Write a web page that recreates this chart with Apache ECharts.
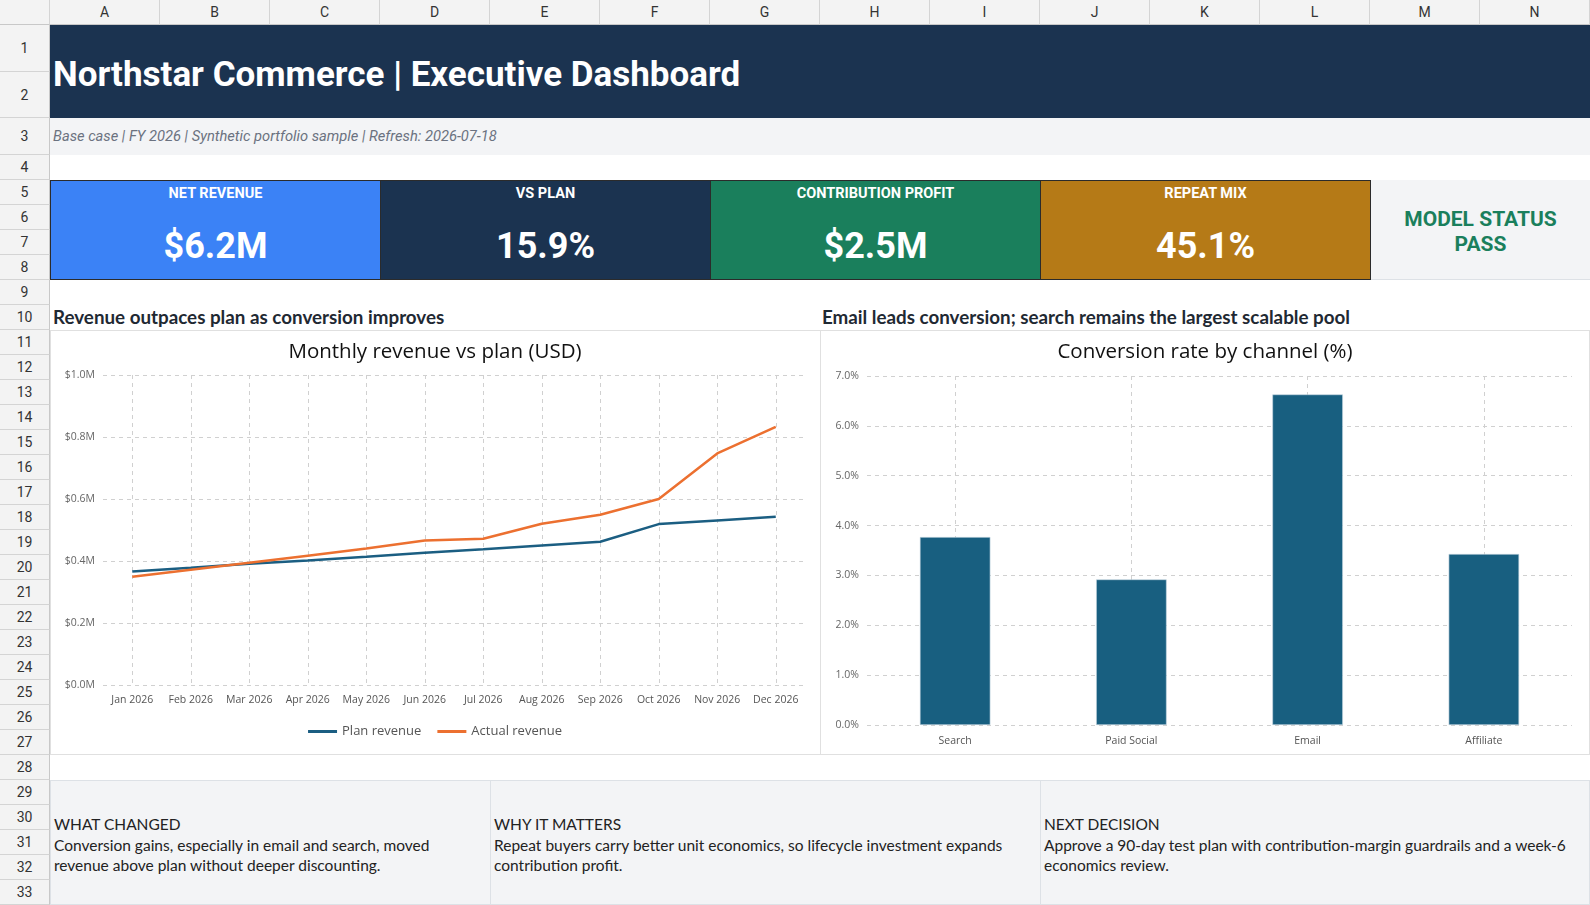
<!DOCTYPE html>
<html>
<head>
<meta charset="utf-8">
<script src="https://cdn.jsdelivr.net/npm/echarts@6/dist/echarts.min.js"></script>
<style>
  html, body { margin: 0; padding: 0; background: #fff; }
  body { width: 1590px; height: 905px; position: relative; overflow: hidden; font-family: Roboto, sans-serif; }
  .abs { position: absolute; box-sizing: border-box; }
  .colhd { background: #f3f3f3; border-right: 1px solid #d4d4d4; border-bottom: 1px solid #c8c8c8; color: #333; font-size: 14px; text-align: center; line-height: 25px; }
  .rowhd { background: #f3f3f3; border-right: 1px solid #c8c8c8; border-bottom: 1px solid #d4d4d4; color: #333; font-size: 14px; text-align: center; }
  .kpi { color: #fff; text-align: center; border: 1px solid #2b2b2b; }
  .kpi .lbl { position: absolute; left: 0; right: 0; top: 4px; font-size: 14.5px; font-weight: bold; }
  .kpi .val { position: absolute; left: 0; right: 0; top: 44px; font-size: 36px; font-weight: bold; }
  .head { font-family: Lato, sans-serif; font-weight: bold; font-size: 18.8px; color: #1f2933; white-space: nowrap; }
  .note { background: #f3f4f6; border: 1px solid #dde1e6; font-family: Lato, sans-serif; font-size: 15.5px; color: #222; line-height: 20.5px; padding: 33px 0 0 3px; white-space: nowrap; }
  .box { border: 1px solid #e0e0e0; background: #fff; }
</style>
</head>
<body>
<div id="sheet"></div>
<div class="abs" style="left:50px;top:25px;width:1540px;height:93px;background:#1b3350;"></div>
<div class="abs" style="left:53px;top:54px;color:#fff;font-size:35px;font-weight:bold;white-space:nowrap;">Northstar Commerce | Executive Dashboard</div>
<div class="abs" style="left:50px;top:118px;width:1540px;height:37px;background:#f3f4f6;"></div>
<div class="abs" style="left:53px;top:127px;color:#6b7280;font-size:14.7px;font-style:italic;white-space:nowrap;">Base case | FY 2026 | Synthetic portfolio sample | Refresh: 2026-07-18</div>

<div class="abs kpi" style="left:50px;top:180px;width:331px;height:100px;background:#3b82f6;"><div class="lbl">NET REVENUE</div><div class="val">$6.2M</div></div>
<div class="abs kpi" style="left:380px;top:180px;width:331px;height:100px;background:#1b3350;"><div class="lbl">VS PLAN</div><div class="val">15.9%</div></div>
<div class="abs kpi" style="left:710px;top:180px;width:331px;height:100px;background:#1a7f5c;"><div class="lbl">CONTRIBUTION PROFIT</div><div class="val">$2.5M</div></div>
<div class="abs kpi" style="left:1040px;top:180px;width:331px;height:100px;background:#b57a17;"><div class="lbl">REPEAT MIX</div><div class="val">45.1%</div></div>
<div class="abs" style="left:1371px;top:180px;width:219px;height:100px;background:#f3f4f6;border-bottom:1px solid #dde1e6;color:#1a7f5c;font-weight:bold;font-size:21px;text-align:center;line-height:25px;padding-top:27px;">MODEL STATUS<br>PASS</div>

<div class="abs head" style="left:53px;top:305px;">Revenue outpaces plan as conversion improves</div>
<div class="abs head" style="left:822px;top:305px;">Email leads conversion; search remains the largest scalable pool</div>

<div class="abs box" style="left:50px;top:330px;width:771px;height:425px;"></div>
<div class="abs box" style="left:820px;top:330px;width:770px;height:425px;"></div>
<div id="lineChart" class="abs" style="left:50px;top:330px;width:770px;height:425px;"></div>
<div id="barChart" class="abs" style="left:820px;top:330px;width:770px;height:425px;"></div>

<div class="abs note" style="left:50px;top:780px;width:441px;height:125px;">WHAT CHANGED<br>Conversion gains, especially in email and search, moved<br>revenue above plan without deeper discounting.</div>
<div class="abs note" style="left:490px;top:780px;width:551px;height:125px;">WHY IT MATTERS<br>Repeat buyers carry better unit economics, so lifecycle investment expands<br>contribution profit.</div>
<div class="abs note" style="left:1040px;top:780px;width:550px;height:125px;">NEXT DECISION<br>Approve a 90-day test plan with contribution-margin guardrails and a week-6<br>economics review.</div>

<script>
// sheet frame: column letters and row numbers
var colLetters = ['A', 'B', 'C', 'D', 'E', 'F', 'G', 'H', 'I', 'J', 'K', 'L', 'M', 'N'];
var rowHeights = [47, 46, 37, 25, 25, 25, 25, 25, 25, 25, 25, 25, 25, 25, 25, 25, 25, 25, 25, 25, 25, 25, 25, 25, 25, 25, 25, 25, 25, 25, 25, 25, 25];

// chart data
var months = ['Jan 2026', 'Feb 2026', 'Mar 2026', 'Apr 2026', 'May 2026', 'Jun 2026', 'Jul 2026', 'Aug 2026', 'Sep 2026', 'Oct 2026', 'Nov 2026', 'Dec 2026'];
var planRevenue = [0.366, 0.378, 0.391, 0.402, 0.414, 0.427, 0.438, 0.450, 0.462, 0.519, 0.531, 0.543];   // $M
var actualRevenue = [0.349, 0.372, 0.394, 0.417, 0.440, 0.466, 0.472, 0.520, 0.549, 0.600, 0.747, 0.833]; // $M
var channels = ['Search', 'Paid Social', 'Email', 'Affiliate'];
var conversionRate = [3.77, 2.92, 6.63, 3.43]; // %

var sheet = document.getElementById('sheet');
var html = '<div class="abs colhd" style="left:0;top:0;width:50px;height:25px;"></div>';
for (var i = 0; i < colLetters.length; i++) {
    html += '<div class="abs colhd" style="left:' + (50 + i * 110) + 'px;top:0;width:110px;height:25px;">' + colLetters[i] + '</div>';
}
var y = 25;
for (var r = 0; r < rowHeights.length; r++) {
    html += '<div class="abs rowhd" style="left:0;top:' + y + 'px;width:50px;height:' + rowHeights[r] + 'px;line-height:' + rowHeights[r] + 'px;">' + (r + 1) + '</div>';
    y += rowHeights[r];
}
sheet.innerHTML = html;

var chartFont = '"Open Sans", sans-serif';
var dashed = { show: true, lineStyle: { color: '#d0d0d0', type: [4, 4], width: 1 } };

var lineChart = echarts.init(document.getElementById('lineChart'));
lineChart.setOption({
    animation: false,
    textStyle: { fontFamily: chartFont },
    title: {
        text: 'Monthly revenue vs plan (USD)',
        left: 'center',
        top: 7,
        textStyle: { fontFamily: chartFont, fontSize: 20.5, fontWeight: 'normal', color: '#111' }
    },
    legend: {
        bottom: 12,
        left: 'center',
        icon: 'rect',
        itemWidth: 29,
        itemHeight: 3,
        itemGap: 16,
        textStyle: { fontFamily: chartFont, fontSize: 13, color: '#555' },
        data: ['Plan revenue', 'Actual revenue']
    },
    grid: { left: 53, right: 15, top: 45, bottom: 70 },
    xAxis: {
        type: 'category',
        data: months,
        boundaryGap: true,
        axisLine: { show: false },
        axisTick: { show: false },
        axisLabel: { interval: 0, fontFamily: chartFont, fontSize: 10.5, color: '#555', margin: 10 },
        splitLine: { show: true, interval: 0, alignWithLabel: true, lineStyle: { color: '#d0d0d0', type: [4, 4], width: 1 } }
    },
    yAxis: {
        type: 'value',
        min: 0,
        max: 1,
        interval: 0.2,
        axisLine: { show: false },
        axisTick: { show: false },
        axisLabel: {
            fontFamily: chartFont, fontSize: 10.5, color: '#666', margin: 8,
            formatter: function (v) { return '$' + v.toFixed(1) + 'M'; }
        },
        splitLine: dashed
    },
    series: [{
        name: 'Plan revenue',
        type: 'line',
        data: planRevenue,
        symbol: 'none',
        lineStyle: { color: '#1b5e82', width: 2.5 },
        itemStyle: { color: '#1b5e82' }
    }, {
        name: 'Actual revenue',
        type: 'line',
        data: actualRevenue,
        symbol: 'none',
        lineStyle: { color: '#ec7030', width: 2.5 },
        itemStyle: { color: '#ec7030' }
    }]
});

var barChart = echarts.init(document.getElementById('barChart'));
barChart.setOption({
    animation: false,
    textStyle: { fontFamily: chartFont },
    title: {
        text: 'Conversion rate by channel (%)',
        left: 'center',
        top: 7,
        textStyle: { fontFamily: chartFont, fontSize: 20.5, fontWeight: 'normal', color: '#111' }
    },
    grid: { left: 47, right: 18, top: 46, bottom: 30 },
    xAxis: {
        type: 'category',
        data: channels,
        axisLine: { show: false },
        axisTick: { show: false },
        axisLabel: { interval: 0, fontFamily: chartFont, fontSize: 10.5, color: '#555', margin: 11 },
        splitLine: { show: true, interval: 0, alignWithLabel: true, lineStyle: { color: '#d0d0d0', type: [4, 4], width: 1 } }
    },
    yAxis: {
        type: 'value',
        min: 0,
        max: 7,
        interval: 1,
        axisLine: { show: false },
        axisTick: { show: false },
        axisLabel: {
            fontFamily: chartFont, fontSize: 10.5, color: '#666', margin: 8,
            formatter: function (v) { return v.toFixed(1) + '%'; }
        },
        splitLine: dashed
    },
    series: [{
        type: 'bar',
        data: conversionRate,
        barWidth: '40%',
        itemStyle: { color: '#185f80', borderColor: '#c9d8e2', borderWidth: 0.6 }
    }]
});
</script>
</body>
</html>
